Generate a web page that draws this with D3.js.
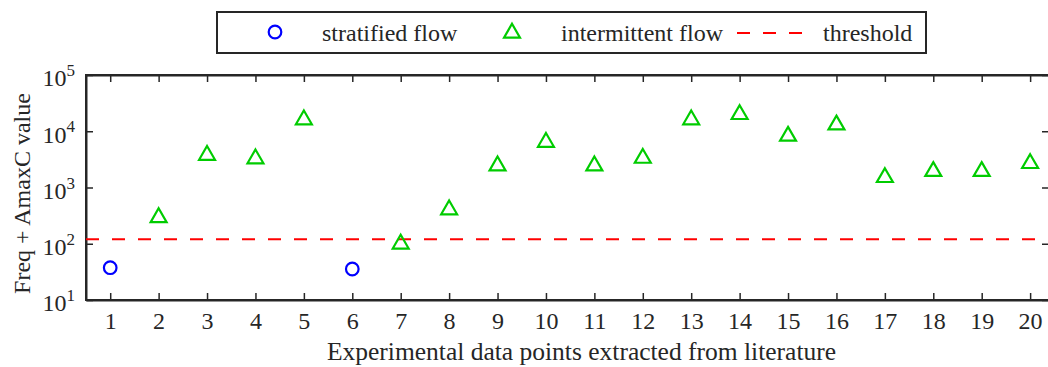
<!DOCTYPE html>
<html>
<head>
<meta charset="utf-8">
<script src="https://cdn.jsdelivr.net/npm/d3@7"></script>
<style>
  body { margin: 0; background: #fff; }
  svg { display: block; font-family: "Liberation Serif", "Times New Roman", serif; }
  .axis path, .axis line { stroke: #262626; }
  .axis text { fill: #262626; font-size: 24px; font-family: "Liberation Serif", serif; }
</style>
</head>
<body>
<svg id="chart" width="1048" height="367"></svg>
<script>
// data
const points = d3.range(1, 21);
const values = [37.5, 310, 3970, 3440, 17000, 35.6, 105, 427, 2580, 6760,
                2580, 3520, 17000, 21100, 8690, 13800, 1600, 2050, 2050, 2840];
const regime = ["s", "i", "i", "i", "i", "s", "i", "i", "i", "i",
                "i", "i", "i", "i", "i", "i", "i", "i", "i", "i"];
const threshold = 120;
const yTicks = [10, 100, 1000, 10000, 100000];
const legendLabels = ["stratified flow", "intermittent flow", "threshold"];

const svg = d3.select('#chart');
const margin = { left: 86, right: 1049, top: 75, bottom: 300 };
const ink = "#262626";

const xScale = d3.scaleLinear().domain([0.5, 20.39]).range([margin.left, margin.right]);
const yScale = d3.scaleLog().domain([10, 100000]).range([margin.bottom, margin.top]);

// axes, ticks pointing inward like matlab
const xAxis = svg.append("g").attr("class", "axis").attr("transform", "translate(0," + margin.bottom + ")")
  .call(d3.axisBottom(xScale).tickValues(points).tickFormat(d3.format("d")).tickSizeInner(-7).tickSizeOuter(0).tickPadding(12));
xAxis.selectAll("text").attr("dy", "0.71em");

svg.append("g").attr("class", "axis").attr("transform", "translate(0," + margin.top + ")")
  .call(d3.axisTop(xScale).tickValues(points).tickFormat("").tickSizeInner(-7).tickSizeOuter(0));

const yAxis = svg.append("g").attr("class", "axis").attr("transform", "translate(" + margin.left + ",0)")
  .call(d3.axisLeft(yScale).tickValues(yTicks).tickFormat(d => "").tickSizeInner(-7).tickSizeOuter(0));

svg.append("g").attr("class", "axis").attr("transform", "translate(" + margin.right + ",0)")
  .call(d3.axisRight(yScale).tickValues(yTicks).tickFormat("").tickSizeInner(-7).tickSizeOuter(0));

svg.selectAll(".axis path").attr("stroke-width", 2);
svg.selectAll(".axis line").attr("stroke-width", 1.5);

// y tick labels as 10 with superscript exponent
yAxis.selectAll(".tick text").each(function(d) {
  const t = d3.select(this).attr("x", -11).attr("dy", "0.45em").text("10");
  t.append("tspan").attr("dy", "-0.6em").attr("font-size", "17px").text(Math.round(Math.log10(d)));
});

// box
svg.append("rect").attr("x", margin.left).attr("y", margin.top)
  .attr("width", margin.right - margin.left).attr("height", margin.bottom - margin.top)
  .attr("fill", "none").attr("stroke", ink).attr("stroke-width", 2);

// axis titles
svg.append("text").attr("x", (margin.left + margin.right) / 2 + 14).attr("y", 360).attr("text-anchor", "middle")
  .attr("font-size", "25.5px").attr("fill", ink).text("Experimental data points extracted from literature");
svg.append("text").attr("transform", "translate(30," + ((margin.top + margin.bottom) / 2 + 6) + ") rotate(-90)")
  .attr("text-anchor", "middle").attr("font-size", "24px").attr("fill", ink).text("Freq + AmaxC value");

// threshold line
svg.append("line").attr("x1", margin.left).attr("x2", margin.right)
  .attr("y1", yScale(threshold)).attr("y2", yScale(threshold))
  .attr("stroke", "#ff0000").attr("stroke-width", 2).attr("stroke-dasharray", "13,13");

const tri = d3.symbol().type(d3.symbolTriangle).size(110);

const g = svg.append("g");
points.forEach((p, i) => {
  const cx = xScale(p), cy = yScale(values[i]);
  if (regime[i] === "s") {
    g.append("circle").attr("cx", cx).attr("cy", cy).attr("r", 6.3)
      .attr("fill", "none").attr("stroke", "#0000ff").attr("stroke-width", 2.2);
  } else {
    g.append("path").attr("d", tri).attr("transform", "translate(" + cx + "," + (cy + 1.4) + ")")
      .attr("fill", "none").attr("stroke", "#00cc00").attr("stroke-width", 2.2);
  }
});

// legend
const lg = svg.append("g");
lg.append("rect").attr("x", 217).attr("y", 12).attr("width", 709).attr("height", 41)
  .attr("fill", "#fff").attr("stroke", ink).attr("stroke-width", 2);
lg.append("circle").attr("cx", 275).attr("cy", 32).attr("r", 6.3)
  .attr("fill", "none").attr("stroke", "#0000ff").attr("stroke-width", 2.2);
lg.append("path").attr("d", tri).attr("transform", "translate(512,33)")
  .attr("fill", "none").attr("stroke", "#00cc00").attr("stroke-width", 2.2);
lg.append("line").attr("x1", 737).attr("x2", 812).attr("y1", 33).attr("y2", 33)
  .attr("stroke", "#ff0000").attr("stroke-width", 2).attr("stroke-dasharray", "13,13");
[[322, legendLabels[0]], [561, legendLabels[1]], [823, legendLabels[2]]].forEach(([x, t]) => {
  lg.append("text").attr("x", x).attr("y", 41).attr("font-size", "24px").attr("fill", ink).text(t);
});
</script>
</body>
</html>
